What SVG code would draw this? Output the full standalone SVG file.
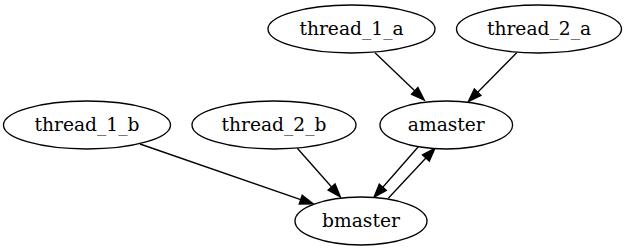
<svg xmlns="http://www.w3.org/2000/svg" width="627" height="251" viewBox="0 0 627 251">
  <style>
    .node ellipse { fill: #ffffff; stroke: #000000; stroke-width: 1.33; }
    .node text { font-family: "DejaVu Serif", serif; font-size: 18.67px; text-anchor: middle; fill: #000000; }
    .edge { fill: none; stroke: #000000; stroke-width: 1.33; marker-end: url(#arrow); }
  </style>
  <defs>
    <marker id="arrow" markerUnits="userSpaceOnUse" markerWidth="16" markerHeight="12" refX="0" refY="6" orient="auto" overflow="visible">
      <path d="M0,1.33 L13.33,6 L0,10.67 Z" fill="#000000" stroke="#000000" stroke-width="1.33"/>
    </marker>
  </defs>
  <rect width="627" height="251" fill="#ffffff"/>

  <!-- connectors: each path ends at the arrowhead base -->
  <g id="edges">
    <path class="edge" d="M375,52.7 L414.7,90.8"/>
    <path class="edge" d="M516.7,52.7 L477.7,92.2"/>
    <path class="edge" d="M140,144 L300.7,199.6"/>
    <path class="edge" d="M297.3,148.3 L331.6,187"/>
    <path class="edge" d="M418.3,146.7 L382.8,187.3"/>
    <path class="edge" d="M388.3,198.3 L425.9,158"/>
  </g>

  <g id="thread_1_a" class="node">
    <ellipse cx="351.5" cy="29" rx="83.5" ry="24"/>
    <text x="351.5" y="35">thread_1_a</text>
  </g>
  <g id="thread_2_a" class="node">
    <ellipse cx="539" cy="29" rx="82.5" ry="24"/>
    <text x="539" y="35">thread_2_a</text>
  </g>
  <g id="thread_1_b" class="node">
    <ellipse cx="87" cy="125" rx="83.5" ry="24"/>
    <text x="87" y="131">thread_1_b</text>
  </g>
  <g id="thread_2_b" class="node">
    <ellipse cx="274" cy="125" rx="82" ry="24"/>
    <text x="274" y="131">thread_2_b</text>
  </g>
  <g id="amaster" class="node">
    <ellipse cx="446.3" cy="125" rx="66.3" ry="24"/>
    <text x="446.3" y="131">amaster</text>
  </g>
  <g id="bmaster" class="node">
    <ellipse cx="361" cy="221" rx="66" ry="24"/>
    <text x="361" y="227">bmaster</text>
  </g>
</svg>
